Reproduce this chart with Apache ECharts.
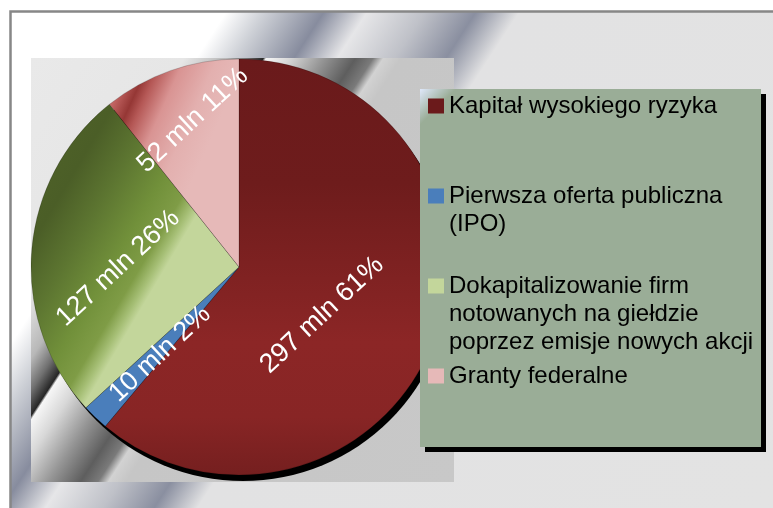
<!DOCTYPE html>
<html>
<head>
<meta charset="utf-8">
<title>Źródła finansowania</title>
<script src="https://cdn.jsdelivr.net/npm/echarts@6/dist/echarts.min.js"></script>
<style>
    html, body { margin: 0; padding: 0; background: #fff; }
    #chart { width: 773px; height: 508px; }
</style>
</head>
<body>
<div id="chart"></div>
<script>
// dane wykresu
var names = [
    'Kapitał wysokiego ryzyka',
    'Pierwsza oferta publiczna (IPO)',
    'Dokapitalizowanie firm notowanych na giełdzie poprzez emisje nowych akcji',
    'Granty federalne'
];
var values = [297, 10, 127, 52];
var unit = 'mln';
// podział tekstu legendy na linie
var legendLines = [
    ['Kapitał wysokiego ryzyka'],
    ['Pierwsza oferta publiczna', '(IPO)'],
    ['Dokapitalizowanie firm', 'notowanych na giełdzie', 'poprzez emisje nowych akcji'],
    ['Granty federalne']
];

var font = '"Liberation Sans", Arial, sans-serif';
var cx = 239, cy = 267, R = 208;
var G = echarts.graphic.LinearGradient;

// wypelnienia wycinkow (gradienty w pikselach)
var sliceFills = [
    new G(0, cy - R, 0, cy + R, [
        { offset: 0, color: '#6a1a1b' },
        { offset: 0.3, color: '#6e1c1c' },
        { offset: 0.68, color: '#8c2626' },
        { offset: 0.86, color: '#882525' },
        { offset: 1, color: '#751f1f' }
    ], true),
    '#4a7ebb',
    new G(31, 150, 220, 262, [
        { offset: 0, color: '#4f6228' },
        { offset: 0.22, color: '#4b5e27' },
        { offset: 0.4, color: '#5d7631' },
        { offset: 0.58, color: '#71903a' },
        { offset: 0.7, color: '#7f9c46' },
        { offset: 0.76, color: '#a6bf76' },
        { offset: 0.8, color: '#c3d69b' },
        { offset: 1, color: '#c3d69b' }
    ], true),
    new G(110, 80, 228, 133, [
        { offset: 0, color: '#d48c8b' },
        { offset: 0.1, color: '#c06260' },
        { offset: 0.22, color: '#953735' },
        { offset: 0.3, color: '#b55856' },
        { offset: 0.46, color: '#d99493' },
        { offset: 0.69, color: '#e3b0af' },
        { offset: 0.9, color: '#e6b9b8' },
        { offset: 1, color: '#e6b9b8' }
    ], true)
];
var legendColors = ['#6b1a1b', '#4a7ebb', '#c3d69b', '#e6b9b8'];

// odleglosc etykiet od srodka i przesuniecie katowe (stopnie)
var labelDist = [96, 117.5, 121, 154];
var labelTurn = [10, -1.5, -5, 1.8];

// katy srodkow wycinkow, od godziny 12 zgodnie z zegarem
var total = 0;
values.forEach(function (v) { total += v; });
var midAngles = [];
var acc = 0;
values.forEach(function (v) {
    midAngles.push((acc + v / 2) / total * 360);
    acc += v;
});

var outerFill = new G(9, 12, 773, 508, [
    { offset: 0, color: '#ffffff' },
    { offset: 0.2, color: '#ffffff' },
    { offset: 0.236, color: '#cdd0d6' },
    { offset: 0.264, color: '#a9adb9' },
    { offset: 0.29, color: '#878c9e' },
    { offset: 0.33, color: '#e6e6e8' },
    { offset: 0.383, color: '#bfc1c8' },
    { offset: 0.43, color: '#8a8fa0' },
    { offset: 0.47, color: '#e2e2e3' },
    { offset: 1, color: '#e3e3e3' }
], true);

var plotFill = new G(31, 58, 522, 377, [
    { offset: 0, color: '#e9e9e9' },
    { offset: 0.22, color: '#e6e6e6' },
    { offset: 0.28, color: '#b8b8b8' },
    { offset: 0.31, color: '#707070' },
    { offset: 0.333, color: '#262626' },
    { offset: 0.337, color: '#f6f6f6' },
    { offset: 0.37, color: '#d8d8d8' },
    { offset: 0.42, color: '#959595' },
    { offset: 0.465, color: '#5e5e5e' },
    { offset: 0.49, color: '#7a7a7a' },
    { offset: 0.505, color: '#d2d2d2' },
    { offset: 0.53, color: '#c6c6c6' },
    { offset: 1, color: '#c8c8c8' }
], true);

var legendFill = new G(420, 89, 438, 107, [
    { offset: 0, color: '#dfe8fb' },
    { offset: 1, color: '#9aad97' }
], true);

var pieData = [];
for (var i = 0; i < values.length; i++) {
    pieData.push({ name: names[i], value: values[i], itemStyle: { color: sliceFills[i] } });
}

var chart = echarts.init(document.getElementById('chart'));
var option = {
    animation: false,
    graphic: [
        { type: 'rect', z: 0, silent: true,
          shape: { x: 10.5, y: 11.5, width: 800, height: 520 },
          style: { fill: outerFill, stroke: '#878787', lineWidth: 2.5 } },
        { type: 'rect', z: 0, silent: true,
          shape: { x: 31, y: 58, width: 423, height: 424 },
          style: { fill: plotFill } },
        { type: 'rect', z: 3, silent: true,
          shape: { x: 425, y: 94, width: 341, height: 358 },
          style: { fill: '#000' } },
        { type: 'rect', z: 3, silent: true,
          shape: { x: 420, y: 89, width: 341, height: 358 },
          style: { fill: legendFill } }
    ],
    legend: {
        orient: 'vertical',
        left: 428,
        top: 92,
        padding: 0,
        itemGap: 6,
        itemWidth: 16,
        itemHeight: 84,
        selectedMode: false,
        icon: 'path://M0,6.5h16v15h-16z M0,0h0.01v0.01h-0.01z M15.99,83.99h0.01v0.01h-0.01z',
        itemStyle: { borderWidth: 0 },
        data: names.map(function (n, i) {
            return { name: n, itemStyle: { color: legendColors[i], borderWidth: 0 } };
        }),
        formatter: function (n) {
            var l = legendLines[names.indexOf(n)].slice();
            while (l.length < 3) l.push('');
            return l.join('\n');
        },
        textStyle: { fontFamily: font, fontSize: 24, color: '#000', lineHeight: 28 }
    },
    series: [
        {
            // cien pod kolem
            type: 'pie',
            silent: true,
            center: [cx + 4, cy + 6],
            radius: R,
            data: [{ name: 'cien', value: 1 }],
            itemStyle: { color: '#000' },
            label: { show: false },
            labelLine: { show: false },
            emphasis: { disabled: true }
        },
        {
            type: 'pie',
            center: [cx, cy],
            radius: R,
            startAngle: 90,
            clockwise: true,
            percentPrecision: 0,
            avoidLabelOverlap: false,
            data: pieData,
            itemStyle: { borderWidth: 0.5, borderColor: 'rgba(0,0,0,0.35)' },
            label: {
                show: true,
                position: 'inside',
                rotate: 43,
                color: '#fff',
                fontFamily: font,
                fontSize: 27,
                formatter: function (p) {
                    return p.value + ' ' + unit + ' ' + p.percent + '%';
                }
            },
            labelLine: { show: false },
            labelLayout: function (p) {
                var k = p.dataIndex;
                var a = (midAngles[k] + labelTurn[k]) * Math.PI / 180;
                return {
                    x: cx + labelDist[k] * Math.sin(a),
                    y: cy - labelDist[k] * Math.cos(a)
                };
            },
            emphasis: { disabled: true }
        }
    ]
};
chart.setOption(option);
</script>
</body>
</html>
